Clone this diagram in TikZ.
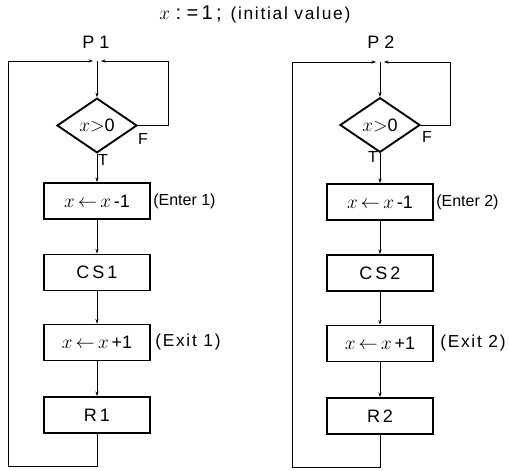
\documentclass[tikz,border=0pt]{standalone}
\usepackage{fontspec}
\setmainfont{Liberation Sans}
\newfontfamily\widesans[LetterSpace=10]{Liberation Sans}
\usetikzlibrary{shapes.geometric,arrows.meta}
\begin{document}
\begin{tikzpicture}[x=0.75pt,y=-0.75pt,
  txt/.style={font=\fontsize{12}{14}\selectfont},
  big/.style={font=\fontsize{13.5}{15}\selectfont},
  box/.style={draw,line width=1.4pt,minimum width=80pt,minimum height=27pt,inner sep=0pt,big},
  test/.style={draw,diamond,line width=1.4pt,minimum width=60pt,minimum height=41pt,inner sep=0pt,big},
  flow/.style={line width=0.45pt,-{Stealth[length=3.5pt,width=2.4pt]}},
  merge/.style={flow,shorten >=3pt},
  lbl/.style={txt,inner sep=0pt}]
\useasboundingbox (0,0) rectangle (509,470);

% shared initialisation
\node[inner sep=0pt,anchor=west] (init) at (159,14)
  {\fontsize{15}{17}\selectfont $x$\;:\;=\,1\,;\, {\widesans\fontsize{13}{15}\selectfont (initial value)}};

% ---------- process P1 ----------
\node[lbl,big] (p1) at (96,42) {P 1};
\coordinate (j1) at (97,61);
\coordinate (f1) at (168,61);
\coordinate (b1) at (8,466);
\node[test] (d1) at (97,125.5) {$x{>}$0};
\node[box] (e1) at (97,201) {$x\,{\leftarrow}\,x$\,-1};
\node[box] (c1) at (97,272.5) {C\,S\,1};
\node[box] (x1) at (97,342.5) {$x\,{\leftarrow}\,x$\,+1};
\node[box] (r1) at (97,415) {R\,1};
\node[lbl,anchor=west] (en1) at (153,201) {(Enter 1)};
\node[lbl,anchor=west,font=\widesans\fontsize{13}{15}\selectfont] (ex1) at (155,342.5) {(Exit 1)};
\node[lbl] (t1) at (103,160) {T};
\node[lbl] (fl1) at (143,139) {F};

\draw[flow] (j1) -- (d1.north);
\draw[merge] (d1.east) -| (f1) -- (j1);
\draw[flow] (d1.south) -- (e1.north);
\draw[flow] (e1) -- (c1);
\draw[flow] (c1) -- (x1);
\draw[flow] (x1) -- (r1);
\draw[merge] (r1.south) |- (b1) |- (j1);

% ---------- process P2 ----------
\node[lbl,big] (p2) at (381,42) {P 2};
\coordinate (j2) at (380,62);
\coordinate (f2) at (450,62);
\coordinate (b2) at (292,467);
\node[test] (d2) at (380,125) {$x{>}$0};
\node[box] (e2) at (380,202) {$x\,{\leftarrow}\,x$\,-1};
\node[box] (c2) at (380,273) {C\,S\,2};
\node[box] (x2) at (380,343.5) {$x\,{\leftarrow}\,x$\,+1};
\node[box] (r2) at (380,416) {R\,2};
\node[lbl,anchor=west] (en2) at (436,202) {(Enter 2)};
\node[lbl,anchor=west,font=\widesans\fontsize{13}{15}\selectfont] (ex2) at (440,343.5) {(Exit 2)};
\node[lbl] (t2) at (373,157) {T};
\node[lbl] (fl2) at (427,137) {F};

\draw[flow] (j2) -- (d2.north);
\draw[merge] (d2.east) -| (f2) -- (j2);
\draw[flow] (d2.south) -- (e2.north);
\draw[flow] (e2) -- (c2);
\draw[flow] (c2) -- (x2);
\draw[flow] (x2) -- (r2);
\draw[merge] (r2.south) |- (b2) |- (j2);
\end{tikzpicture}
\end{document}
